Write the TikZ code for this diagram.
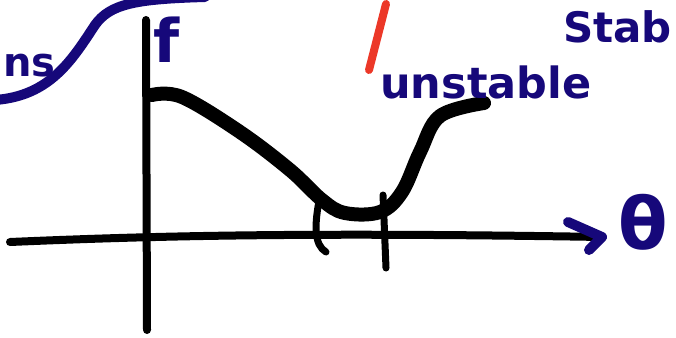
\documentclass[tikz,border=0pt]{standalone}
\usepackage{fontspec}
\setsansfont{DejaVu Sans}
\usetikzlibrary{positioning}
\definecolor{ink}{RGB}{22,8,122}
\definecolor{redmark}{RGB}{236,56,40}

\begin{document}
\begin{tikzpicture}[x=1pt,y=-1pt,
    axisline/.style={draw=black,line width=8pt,line cap=round},
    curveline/.style={draw=black,line width=14pt,line cap=round,line join=round},
    markline/.style={draw=black,line width=7pt,line cap=round},
    inkline/.style={draw=ink,line width=10pt,line cap=round,line join=round},
    inklabel/.style={text=ink,inner sep=0pt,font=\sffamily\bfseries}
]
\useasboundingbox (0,0) rectangle (676,337);
\clip (0,0) rectangle (676,337);
% axes
\coordinate (xstart) at (10,242);
\coordinate (xend) at (602,237);
\coordinate (ybottom) at (147,330);
\coordinate (ytop) at (146,20);
\coordinate (tipup) at (568,222);
\coordinate (tipdown) at (589,250);
\draw[axisline] (xstart) .. controls (150,236) and (300,232) .. (xend);
\draw[axisline] (ybottom) -- (ytop);
\draw[inkline] (tipup) -- (xend) -- (tipdown);
% curve of f
\draw[curveline] plot[smooth,tension=0.6] coordinates {(152,95) (182,97) (240,132) (290,170)
    (322,200) (345,213) (380,212) (402,192) (420,152) (440,116) (484,103)};
% interval marks
\coordinate (lefttop) at (320,196);
\coordinate (leftend) at (326,252);
\coordinate (righttop) at (383,195);
\coordinate (rightend) at (386,268);
\draw[markline] (lefttop) .. controls (314,225) and (314,245) .. (leftend);
\draw[markline] (righttop) -- (rightend);
% red stroke
\coordinate (redtop) at (386,4);
\coordinate (redend) at (369,70);
\draw[draw=redmark,line width=8pt,line cap=round] (redtop) -- (redend);
% blue stroke at left
\coordinate (swirlstart) at (-5,100);
\coordinate (swirlend) at (205,-3);
\draw[inkline] (swirlstart) .. controls (50,96) and (72,60) .. (95,25)
    .. controls (110,4) and (135,-1) .. (swirlend);
% labels
\node[inklabel,font=\sffamily\bfseries\fontsize{40}{44}\selectfont,anchor=base west] (nslabel) at (3,76) {ns};
\node[inklabel,font=\sffamily\bfseries\fontsize{60}{64}\selectfont,anchor=base west] (flabel) at (153,62) {f};
\node[inklabel,font=\sffamily\bfseries\fontsize{43}{47}\selectfont,anchor=base west] (unstablelabel) at (380,98) {unstable};
\node[inklabel,font=\sffamily\bfseries\fontsize{42}{46}\selectfont,anchor=base west] (stablabel) at (563,42) {Stab};
\node[inklabel,font=\sffamily\bfseries\fontsize{72}{76}\selectfont] (thetalabel) at (643,222) {θ};
\end{tikzpicture}
\end{document}
